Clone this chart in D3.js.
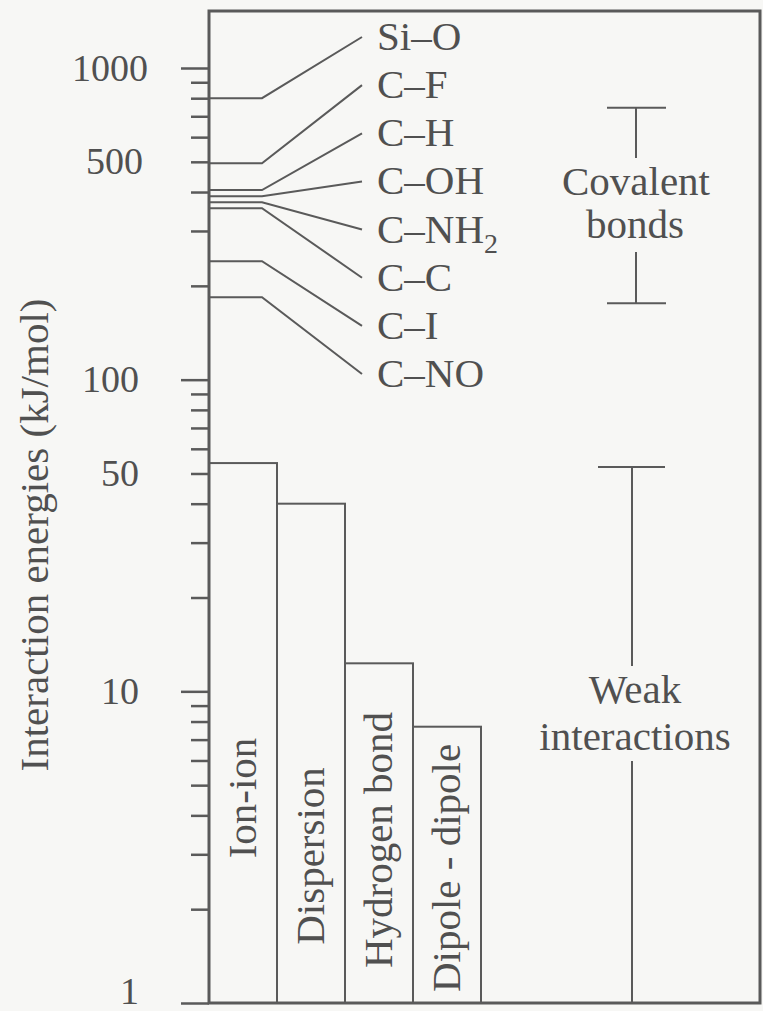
<!DOCTYPE html>
<html>
<head>
<meta charset="utf-8">
<script src="https://cdn.jsdelivr.net/npm/d3@7"></script>
<style>
  html, body { margin: 0; padding: 0; background: #f7f7f5; }
</style>
</head>
<body>
<div id="chart"></div>
<script>
// Bond energies (kJ/mol)
const bondNames = ['Si–O', 'C–F', 'C–H', 'C–OH', 'C–NH2', 'C–C', 'C–I', 'C–NO'];
const bondEnergies = [800, 495, 406, 388, 371, 355, 240, 184];

// Weak interaction bars
const barNames = ['Ion-ion', 'Dispersion', 'Hydrogen bond', 'Dipole - dipole'];
const barEnergies = [54, 40, 12.3, 7.7];

// Axis ticks
const majorTicks = [1, 10, 100, 1000];
const minorTicks = [2, 3, 4, 5, 6, 7, 8, 9, 20, 30, 40, 50, 60, 70, 80, 90,
  200, 300, 400, 500, 600, 700, 800, 900];
const tickLabels = [1, 10, 50, 100, 500, 1000];

// Bracket ranges
const covalentRange = [176, 745];
const weakRange = [1, 52.5];

const width = 763, height = 1011;
const plotLeft = 209, plotRight = 760, plotTop = 11, plotBottom = 1003;
const ink = '#5a5a5a';
const textColor = '#505050';
const serif = '"Liberation Serif"';

const svg = d3.select('#chart')
  .append('svg')
  .attr('width', width)
  .attr('height', height);

const y = d3.scaleLog().domain([1, 1000]).range([plotBottom, 68]);

// bars sit side by side from the axis
const x = d3.scaleBand().domain(barNames).range([plotLeft, 481]).padding(0);

// label rows for the bond names on the right of the leaders
const labelY = d3.scalePoint().domain(bondNames).range([37, 374]);

// shared text styling
const styleText = (sel, size) => sel
  .style('font-family', serif)
  .style('font-size', size + 'px')
  .style('fill', textColor);

// frame
svg.append('rect')
  .attr('x', plotLeft).attr('y', plotTop)
  .attr('width', plotRight - plotLeft).attr('height', plotBottom - plotTop)
  .attr('fill', 'none')
  .attr('stroke', ink)
  .attr('stroke-width', 3);

// axis ticks (minor, major) and labels
const minorAxis = d3.axisLeft(y).tickValues(minorTicks).tickSize(18).tickFormat('');
const majorAxis = d3.axisLeft(y).tickValues(majorTicks).tickSize(28).tickFormat('');
const labelAxis = d3.axisLeft(y).tickValues(tickLabels).tickSize(0).tickPadding(70)
  .tickFormat(d3.format('d'));

[minorAxis, majorAxis].forEach((ax) => {
  const g = svg.append('g').attr('transform', `translate(${plotLeft},0)`).call(ax);
  g.select('.domain').remove();
  g.selectAll('line').attr('stroke', ink).attr('stroke-width', 2.5);
});

const lg = svg.append('g').attr('transform', `translate(${plotLeft},0)`).call(labelAxis);
lg.select('.domain').remove();
lg.selectAll('text')
  .call(styleText, 38)
  .attr('dx', (d) => (d === 1000 ? 9 : d === 500 ? 4 : 0))
  .attr('dy', (d) => (d === 1 ? '0.02em' : '0.32em'));

// y axis title
svg.append('text')
  .attr('transform', 'translate(48,535) rotate(-90)')
  .attr('text-anchor', 'middle')
  .call(styleText, 41)
  .text('Interaction energies (kJ/mol)');

// leader lines from the axis to the bond labels
svg.append('g')
  .selectAll('path')
  .data(bondNames)
  .join('path')
  .attr('d', (d, i) => {
    const yv = y(bondEnergies[i]);
    return `M${plotLeft},${yv}H262L362,${labelY(d)}`;
  })
  .attr('fill', 'none')
  .attr('stroke', ink)
  .attr('stroke-width', 2);

// bond labels
const bl = svg.append('g')
  .selectAll('text')
  .data(bondNames)
  .join('text')
  .attr('x', 377)
  .attr('y', (d) => labelY(d) + 13)
  .call(styleText, 41);

bl.each(function (d) {
  const t = d3.select(this);
  if (d.endsWith('2')) {
    t.append('tspan').text(d.slice(0, -1));
    t.append('tspan').style('font-size', '28px').attr('dy', 10).text('2');
  } else {
    t.text(d);
  }
});

// weak interaction bars
svg.append('g')
  .selectAll('rect')
  .data(barNames)
  .join('rect')
  .attr('x', (d) => x(d))
  .attr('y', (d, i) => y(barEnergies[i]))
  .attr('width', x.bandwidth())
  .attr('height', (d, i) => plotBottom - y(barEnergies[i]))
  .attr('fill', 'none')
  .attr('stroke', ink)
  .attr('stroke-width', 2);

// rotated bar labels
const barLabelMid = [798, 856, 840, 868];
svg.append('g')
  .selectAll('text')
  .data(barNames)
  .join('text')
  .attr('transform', (d, i) =>
    `translate(${x(d) + x.bandwidth() / 2 + 13},${barLabelMid[i]}) rotate(-90)`)
  .attr('text-anchor', 'middle')
  .call(styleText, 41)
  .text((d) => d);

// brackets
function bracket(cx, capL, capR, range, gapTop, gapBottom) {
  const g = svg.append('g').attr('stroke', ink).attr('stroke-width', 2);
  const yTop = y(range[1]), yBot = y(range[0]);
  g.append('line').attr('x1', capL).attr('x2', capR).attr('y1', yTop).attr('y2', yTop);
  g.append('line').attr('x1', cx).attr('x2', cx).attr('y1', yTop).attr('y2', gapTop);
  g.append('line').attr('x1', cx).attr('x2', cx).attr('y1', gapBottom).attr('y2', yBot);
  if (range[0] > 1) {
    g.append('line').attr('x1', capL).attr('x2', capR).attr('y1', yBot).attr('y2', yBot);
  }
}

bracket(636, 607, 666, covalentRange, 158, 252);
bracket(632, 598, 665, weakRange, 666, 761);

const bracketText = [
  { text: 'Covalent', x: 636, y: 182 },
  { text: 'bonds', x: 635, y: 225 },
  { text: 'Weak', x: 635, y: 690 },
  { text: 'interactions', x: 635, y: 737 },
];

svg.append('g')
  .selectAll('text')
  .data(bracketText)
  .join('text')
  .attr('x', (d) => d.x)
  .attr('y', (d) => d.y + 13)
  .attr('text-anchor', 'middle')
  .call(styleText, 41)
  .text((d) => d.text);
</script>
</body>
</html>
